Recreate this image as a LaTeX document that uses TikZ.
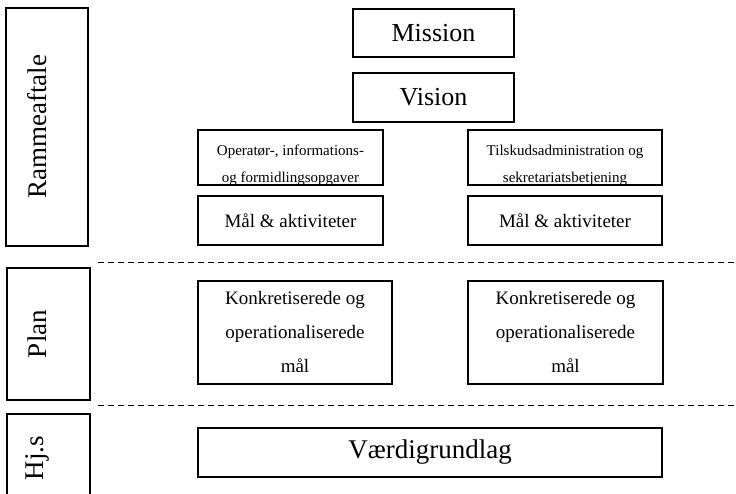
\documentclass[tikz,border=0pt]{standalone}
\usepackage{fontspec}
\setmainfont{Liberation Serif}
\begin{document}
\begin{tikzpicture}[x=1pt,y=-1pt,
  box/.style={draw, line width=1.1pt, rectangle, inner sep=0pt, align=center},
  big/.style={font=\fontsize{26}{30}\selectfont},
  mid/.style={font=\fontsize{19}{34}\selectfont},
  small/.style={font=\fontsize{15}{27}\selectfont},
  side/.style={font=\fontsize{27}{30}\selectfont, rotate=90, inner sep=0pt},
  sep/.style={line width=1pt, dash pattern=on 6pt off 4pt}]
\useasboundingbox (0,0) rectangle (736,494);
\clip (0,0) rectangle (736,494);

% left column
\node[box, minimum width=82pt, minimum height=238pt] (ramme) at (47,127) {};
\node[side] (rammeT) at (37,127) {Rammeaftale};
\node[box, minimum width=83pt, minimum height=132pt] (plan) at (48.5,334) {};
\node[side] (planT) at (37,334) {Plan};
\node[box, minimum width=83pt, minimum height=88pt] (hjs) at (48.5,458) {};
\node[side] (hjsT) at (37,458) {Hj.s};

% top
\node[box, big, minimum width=161pt, minimum height=48pt] (mission) at (433.5,33) {Mission};
\node[box, big, minimum width=161pt, minimum height=49pt] (vision) at (433.5,97.5) {Vision};

\node[box, minimum width=185pt, minimum height=55pt,
  path picture={\node[small, align=center] at ([yshift=-7.5pt]path picture bounding box.center)
  {Operatør-, informations-\\og formidlingsopgaver};}] (op) at (290.5,157.5) {};
\node[box, minimum width=194pt, minimum height=55pt,
  path picture={\node[small, align=center] at ([yshift=-7.5pt]path picture bounding box.center)
  {Tilskudsadministration og\\sekretariatsbetjening};}] (til) at (565,157.5) {};

\node[box, mid, minimum width=185pt, minimum height=49pt] (malL) at (290.5,220.5) {Mål \& aktiviteter};
\node[box, mid, minimum width=194pt, minimum height=49pt] (malR) at (565,220.5) {Mål \& aktiviteter};

% plan
\node[box, mid, minimum width=194pt, minimum height=103pt] (konL) at (295,332.5) {Konkretiserede og\\operationaliserede\\mål};
\node[box, mid, minimum width=195pt, minimum height=103pt] (konR) at (565.5,332.5) {Konkretiserede og\\operationaliserede\\mål};

% base
\node[box, font=\fontsize{27}{30}\selectfont, minimum width=464pt, minimum height=49pt] (vaerdi) at (430,452.5) {Værdigrundlag};

% separators
\coordinate (s1a) at (98,263);
\coordinate (s1b) at (736,263);
\coordinate (s2a) at (98,405);
\coordinate (s2b) at (736,405);
\draw[sep] (s1a) -- (s1b);
\draw[sep] (s2a) -- (s2b);
\end{tikzpicture}
\end{document}
